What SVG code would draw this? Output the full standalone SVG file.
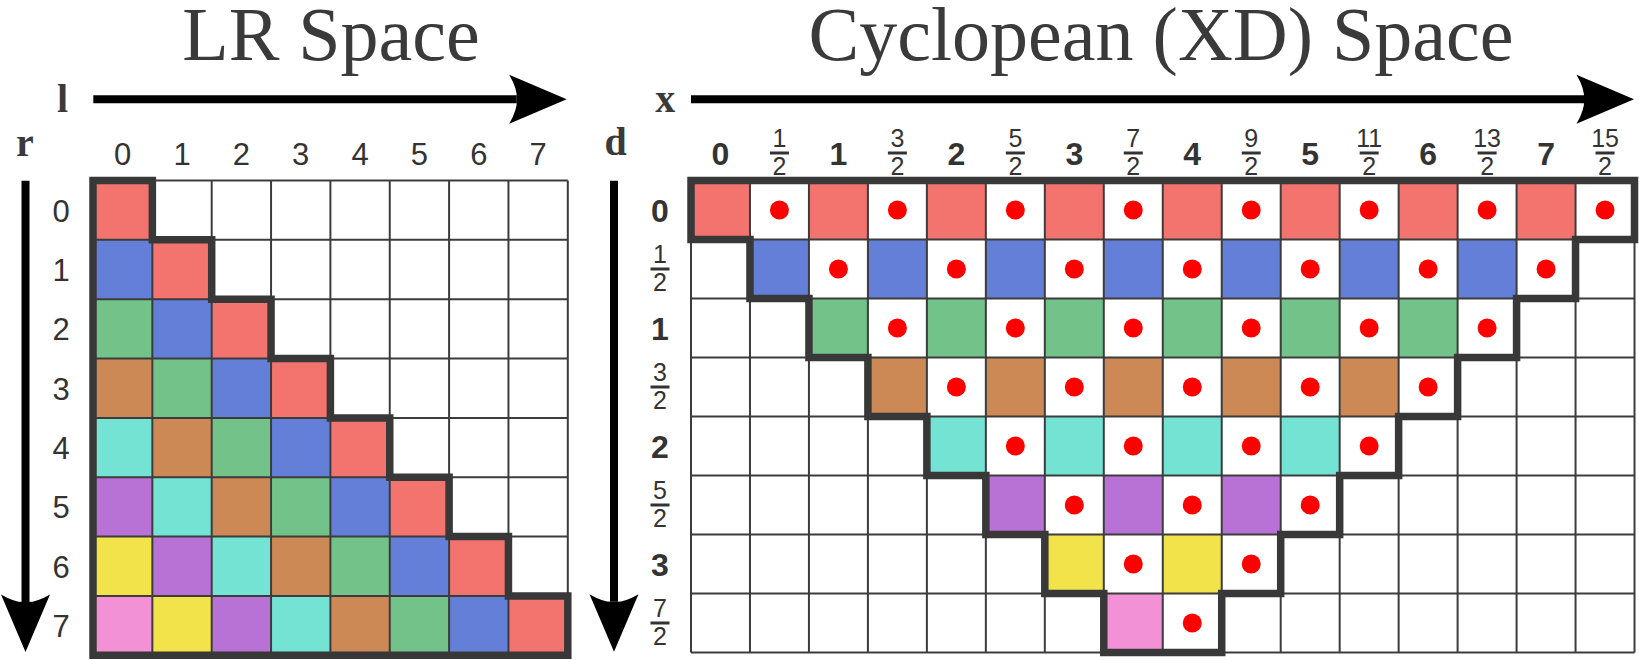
<svg xmlns="http://www.w3.org/2000/svg" xmlns:xlink="http://www.w3.org/1999/xlink" width="1639" height="660" viewBox="0 0 1639 660">
<style>
.title{font-family:"Liberation Serif","Times New Roman",serif;font-size:76px;fill:#3a3a3a;text-anchor:middle}
.axis{font-family:"Liberation Serif","Times New Roman",serif;font-size:40px;font-weight:bold;fill:#3a3a3a;text-anchor:middle}
.lab{font-family:"Liberation Sans",Arial,sans-serif;font-size:31px;fill:#333;text-anchor:middle}
.blab{font-family:"Liberation Sans",Arial,sans-serif;font-size:32px;font-weight:bold;fill:#333;text-anchor:middle}
.frac{font-family:"Liberation Sans",Arial,sans-serif;font-size:25px;fill:#333;text-anchor:middle}
.bar{stroke:#333;stroke-width:3}
.grid{fill:none;stroke:#3c3c3c;stroke-width:2}
.stair{fill:none;stroke:#383838;stroke-width:7.5;stroke-linejoin:miter;stroke-linecap:square}
.arrow{stroke:#000;stroke-width:8;fill:none}
.c0{fill:#f3736f}.c1{fill:#647fd7}.c2{fill:#73c28a}.c3{fill:#cc8955}
.c4{fill:#75e3d4}.c5{fill:#b872d6}.c6{fill:#f2e34b}.c7{fill:#f291d5}
.dot{fill:#ff0000}
</style>
<defs>
<marker id="head" markerUnits="userSpaceOnUse" orient="auto" viewBox="-8 -25 58 50" markerWidth="58" markerHeight="50" refX="0" refY="0">
<path d="M50,0 L-7.5,-24.5 Q1,-10 0,0 Q1,10 -7.5,24.5 Z" fill="#000"/>
</marker>
</defs>
<rect width="1639" height="660" fill="#fff"/>

<g id="titles">
<text class="title" x="331" y="60">LR Space</text>
<text class="title" x="1161" y="60">Cyclopean (XD) Space</text>
</g>

<g id="axis-letters">
<text class="axis" x="62.5" y="111.7">l</text>
<text class="axis" x="24.8" y="155.7">r</text>
<text class="axis" x="665.3" y="111.7">x</text>
<text class="axis" x="615.5" y="155">d</text>
</g>

<g id="connectors">
<line class="arrow" x1="93.3" y1="99.3" x2="516.7" y2="99.3" marker-end="url(#head)"/>
<line class="arrow" x1="25.5" y1="180.7" x2="25.5" y2="602" marker-end="url(#head)"/>
<line class="arrow" x1="691" y1="99.2" x2="1584" y2="99.2" marker-end="url(#head)"/>
<line class="arrow" x1="614" y1="180.7" x2="614" y2="601.7" marker-end="url(#head)"/>
</g>

<g id="lr-grid">
<g id="lr-fills">
<rect class="c0" x="93" y="180.5" width="59.35" height="59.35"/>
<rect class="c1" x="93" y="239.85" width="59.35" height="59.35"/>
<rect class="c0" x="152.35" y="239.85" width="59.35" height="59.35"/>
<rect class="c2" x="93" y="299.2" width="59.35" height="59.35"/>
<rect class="c1" x="152.35" y="299.2" width="59.35" height="59.35"/>
<rect class="c0" x="211.7" y="299.2" width="59.35" height="59.35"/>
<rect class="c3" x="93" y="358.55" width="59.35" height="59.35"/>
<rect class="c2" x="152.35" y="358.55" width="59.35" height="59.35"/>
<rect class="c1" x="211.7" y="358.55" width="59.35" height="59.35"/>
<rect class="c0" x="271.05" y="358.55" width="59.35" height="59.35"/>
<rect class="c4" x="93" y="417.9" width="59.35" height="59.35"/>
<rect class="c3" x="152.35" y="417.9" width="59.35" height="59.35"/>
<rect class="c2" x="211.7" y="417.9" width="59.35" height="59.35"/>
<rect class="c1" x="271.05" y="417.9" width="59.35" height="59.35"/>
<rect class="c0" x="330.4" y="417.9" width="59.35" height="59.35"/>
<rect class="c5" x="93" y="477.25" width="59.35" height="59.35"/>
<rect class="c4" x="152.35" y="477.25" width="59.35" height="59.35"/>
<rect class="c3" x="211.7" y="477.25" width="59.35" height="59.35"/>
<rect class="c2" x="271.05" y="477.25" width="59.35" height="59.35"/>
<rect class="c1" x="330.4" y="477.25" width="59.35" height="59.35"/>
<rect class="c0" x="389.75" y="477.25" width="59.35" height="59.35"/>
<rect class="c6" x="93" y="536.6" width="59.35" height="59.35"/>
<rect class="c5" x="152.35" y="536.6" width="59.35" height="59.35"/>
<rect class="c4" x="211.7" y="536.6" width="59.35" height="59.35"/>
<rect class="c3" x="271.05" y="536.6" width="59.35" height="59.35"/>
<rect class="c2" x="330.4" y="536.6" width="59.35" height="59.35"/>
<rect class="c1" x="389.75" y="536.6" width="59.35" height="59.35"/>
<rect class="c0" x="449.1" y="536.6" width="59.35" height="59.35"/>
<rect class="c7" x="93" y="595.95" width="59.35" height="59.35"/>
<rect class="c6" x="152.35" y="595.95" width="59.35" height="59.35"/>
<rect class="c5" x="211.7" y="595.95" width="59.35" height="59.35"/>
<rect class="c4" x="271.05" y="595.95" width="59.35" height="59.35"/>
<rect class="c3" x="330.4" y="595.95" width="59.35" height="59.35"/>
<rect class="c2" x="389.75" y="595.95" width="59.35" height="59.35"/>
<rect class="c1" x="449.1" y="595.95" width="59.35" height="59.35"/>
<rect class="c0" x="508.45" y="595.95" width="59.35" height="59.35"/>
</g>
<path class="grid" d="M93,180.5H567.8M93,239.85H567.8M93,299.2H567.8M93,358.55H567.8M93,417.9H567.8M93,477.25H567.8M93,536.6H567.8M93,595.95H567.8M93,655.3H567.8M93,180.5V655.3M152.35,180.5V655.3M211.7,180.5V655.3M271.05,180.5V655.3M330.4,180.5V655.3M389.75,180.5V655.3M449.1,180.5V655.3M508.45,180.5V655.3M567.8,180.5V655.3"/>
<path id="lr-stair" class="stair" d="M93,180.5H152.35V239.85H211.7V299.2H271.05V358.55H330.4V417.9H389.75V477.25H449.1V536.6H508.45V595.95H567.8V655.3H93Z"/>
</g>

<g id="lr-labels">
<text class="lab" x="122.68" y="165">0</text>
<text class="lab" x="182.03" y="165">1</text>
<text class="lab" x="241.38" y="165">2</text>
<text class="lab" x="300.73" y="165">3</text>
<text class="lab" x="360.08" y="165">4</text>
<text class="lab" x="419.43" y="165">5</text>
<text class="lab" x="478.78" y="165">6</text>
<text class="lab" x="538.13" y="165">7</text>
<text class="lab" x="61" y="221.7">0</text>
<text class="lab" x="61" y="281">1</text>
<text class="lab" x="61" y="340.4">2</text>
<text class="lab" x="61" y="399.7">3</text>
<text class="lab" x="61" y="459.1">4</text>
<text class="lab" x="61" y="518.4">5</text>
<text class="lab" x="61" y="577.8">6</text>
<text class="lab" x="61" y="637.1">7</text>
</g>

<g id="xd-grid">
<g id="xd-fills">
<rect class="c0" x="691" y="180.5" width="58.97" height="59"/>
<rect class="c0" x="808.94" y="180.5" width="58.97" height="59"/>
<rect class="c0" x="926.88" y="180.5" width="58.97" height="59"/>
<rect class="c0" x="1044.82" y="180.5" width="58.97" height="59"/>
<rect class="c0" x="1162.76" y="180.5" width="58.97" height="59"/>
<rect class="c0" x="1280.7" y="180.5" width="58.97" height="59"/>
<rect class="c0" x="1398.64" y="180.5" width="58.97" height="59"/>
<rect class="c0" x="1516.58" y="180.5" width="58.97" height="59"/>
<rect class="c1" x="749.97" y="239.5" width="58.97" height="59"/>
<rect class="c1" x="867.91" y="239.5" width="58.97" height="59"/>
<rect class="c1" x="985.85" y="239.5" width="58.97" height="59"/>
<rect class="c1" x="1103.79" y="239.5" width="58.97" height="59"/>
<rect class="c1" x="1221.73" y="239.5" width="58.97" height="59"/>
<rect class="c1" x="1339.67" y="239.5" width="58.97" height="59"/>
<rect class="c1" x="1457.61" y="239.5" width="58.97" height="59"/>
<rect class="c2" x="808.94" y="298.5" width="58.97" height="59"/>
<rect class="c2" x="926.88" y="298.5" width="58.97" height="59"/>
<rect class="c2" x="1044.82" y="298.5" width="58.97" height="59"/>
<rect class="c2" x="1162.76" y="298.5" width="58.97" height="59"/>
<rect class="c2" x="1280.7" y="298.5" width="58.97" height="59"/>
<rect class="c2" x="1398.64" y="298.5" width="58.97" height="59"/>
<rect class="c3" x="867.91" y="357.5" width="58.97" height="59"/>
<rect class="c3" x="985.85" y="357.5" width="58.97" height="59"/>
<rect class="c3" x="1103.79" y="357.5" width="58.97" height="59"/>
<rect class="c3" x="1221.73" y="357.5" width="58.97" height="59"/>
<rect class="c3" x="1339.67" y="357.5" width="58.97" height="59"/>
<rect class="c4" x="926.88" y="416.5" width="58.97" height="59"/>
<rect class="c4" x="1044.82" y="416.5" width="58.97" height="59"/>
<rect class="c4" x="1162.76" y="416.5" width="58.97" height="59"/>
<rect class="c4" x="1280.7" y="416.5" width="58.97" height="59"/>
<rect class="c5" x="985.85" y="475.5" width="58.97" height="59"/>
<rect class="c5" x="1103.79" y="475.5" width="58.97" height="59"/>
<rect class="c5" x="1221.73" y="475.5" width="58.97" height="59"/>
<rect class="c6" x="1044.82" y="534.5" width="58.97" height="59"/>
<rect class="c6" x="1162.76" y="534.5" width="58.97" height="59"/>
<rect class="c7" x="1103.79" y="593.5" width="58.97" height="59"/>
</g>
<g id="xd-dots">
<circle class="dot" cx="779.46" cy="210" r="9.5"/>
<circle class="dot" cx="897.4" cy="210" r="9.5"/>
<circle class="dot" cx="1015.34" cy="210" r="9.5"/>
<circle class="dot" cx="1133.28" cy="210" r="9.5"/>
<circle class="dot" cx="1251.22" cy="210" r="9.5"/>
<circle class="dot" cx="1369.16" cy="210" r="9.5"/>
<circle class="dot" cx="1487.1" cy="210" r="9.5"/>
<circle class="dot" cx="1605.04" cy="210" r="9.5"/>
<circle class="dot" cx="838.43" cy="269" r="9.5"/>
<circle class="dot" cx="956.37" cy="269" r="9.5"/>
<circle class="dot" cx="1074.31" cy="269" r="9.5"/>
<circle class="dot" cx="1192.25" cy="269" r="9.5"/>
<circle class="dot" cx="1310.19" cy="269" r="9.5"/>
<circle class="dot" cx="1428.13" cy="269" r="9.5"/>
<circle class="dot" cx="1546.07" cy="269" r="9.5"/>
<circle class="dot" cx="897.4" cy="328" r="9.5"/>
<circle class="dot" cx="1015.34" cy="328" r="9.5"/>
<circle class="dot" cx="1133.28" cy="328" r="9.5"/>
<circle class="dot" cx="1251.22" cy="328" r="9.5"/>
<circle class="dot" cx="1369.16" cy="328" r="9.5"/>
<circle class="dot" cx="1487.1" cy="328" r="9.5"/>
<circle class="dot" cx="956.37" cy="387" r="9.5"/>
<circle class="dot" cx="1074.31" cy="387" r="9.5"/>
<circle class="dot" cx="1192.25" cy="387" r="9.5"/>
<circle class="dot" cx="1310.19" cy="387" r="9.5"/>
<circle class="dot" cx="1428.13" cy="387" r="9.5"/>
<circle class="dot" cx="1015.34" cy="446" r="9.5"/>
<circle class="dot" cx="1133.28" cy="446" r="9.5"/>
<circle class="dot" cx="1251.22" cy="446" r="9.5"/>
<circle class="dot" cx="1369.16" cy="446" r="9.5"/>
<circle class="dot" cx="1074.31" cy="505" r="9.5"/>
<circle class="dot" cx="1192.25" cy="505" r="9.5"/>
<circle class="dot" cx="1310.19" cy="505" r="9.5"/>
<circle class="dot" cx="1133.28" cy="564" r="9.5"/>
<circle class="dot" cx="1251.22" cy="564" r="9.5"/>
<circle class="dot" cx="1192.25" cy="623" r="9.5"/>
</g>
<path class="grid" d="M691,180.5H1634.52M691,239.5H1634.52M691,298.5H1634.52M691,357.5H1634.52M691,416.5H1634.52M691,475.5H1634.52M691,534.5H1634.52M691,593.5H1634.52M691,652.5H1634.52M691,180.5V652.5M749.97,180.5V652.5M808.94,180.5V652.5M867.91,180.5V652.5M926.88,180.5V652.5M985.85,180.5V652.5M1044.82,180.5V652.5M1103.79,180.5V652.5M1162.76,180.5V652.5M1221.73,180.5V652.5M1280.7,180.5V652.5M1339.67,180.5V652.5M1398.64,180.5V652.5M1457.61,180.5V652.5M1516.58,180.5V652.5M1575.55,180.5V652.5M1634.52,180.5V652.5"/>
<path id="xd-stair" class="stair" d="M691,180.5H1634.52V239.5H1575.55V298.5H1516.58V357.5H1457.61V416.5H1398.64V475.5H1339.67V534.5H1280.7V593.5H1221.73V652.5H1103.79V593.5H1044.82V534.5H985.85V475.5H926.88V416.5H867.91V357.5H808.94V298.5H749.97V239.5H691Z"/>
</g>

<g id="xd-col-labels">
<text class="blab" x="720.49" y="164.5">0</text>
<text class="blab" x="838.43" y="164.5">1</text>
<text class="blab" x="956.37" y="164.5">2</text>
<text class="blab" x="1074.31" y="164.5">3</text>
<text class="blab" x="1192.25" y="164.5">4</text>
<text class="blab" x="1310.19" y="164.5">5</text>
<text class="blab" x="1428.13" y="164.5">6</text>
<text class="blab" x="1546.07" y="164.5">7</text>
<text class="frac" x="779.46" y="146.5">1</text><line class="bar" x1="769.96" y1="153" x2="788.96" y2="153"/><text class="frac" x="779.46" y="175">2</text>
<text class="frac" x="897.4" y="146.5">3</text><line class="bar" x1="887.9" y1="153" x2="906.9" y2="153"/><text class="frac" x="897.4" y="175">2</text>
<text class="frac" x="1015.34" y="146.5">5</text><line class="bar" x1="1005.84" y1="153" x2="1024.84" y2="153"/><text class="frac" x="1015.34" y="175">2</text>
<text class="frac" x="1133.28" y="146.5">7</text><line class="bar" x1="1123.78" y1="153" x2="1142.78" y2="153"/><text class="frac" x="1133.28" y="175">2</text>
<text class="frac" x="1251.22" y="146.5">9</text><line class="bar" x1="1241.72" y1="153" x2="1260.72" y2="153"/><text class="frac" x="1251.22" y="175">2</text>
<text class="frac" x="1369.16" y="146.5">11</text><line class="bar" x1="1359.66" y1="153" x2="1378.66" y2="153"/><text class="frac" x="1369.16" y="175">2</text>
<text class="frac" x="1487.1" y="146.5">13</text><line class="bar" x1="1477.6" y1="153" x2="1496.6" y2="153"/><text class="frac" x="1487.1" y="175">2</text>
<text class="frac" x="1605.04" y="146.5">15</text><line class="bar" x1="1595.54" y1="153" x2="1614.54" y2="153"/><text class="frac" x="1605.04" y="175">2</text>
</g>

<g id="xd-row-labels">
<text class="blab" x="660" y="221.5">0</text>
<text class="frac" x="660" y="262.5">1</text><line class="bar" x1="650.5" y1="269" x2="669.5" y2="269"/><text class="frac" x="660" y="291">2</text>
<text class="blab" x="660" y="339.5">1</text>
<text class="frac" x="660" y="380.5">3</text><line class="bar" x1="650.5" y1="387" x2="669.5" y2="387"/><text class="frac" x="660" y="409">2</text>
<text class="blab" x="660" y="457.5">2</text>
<text class="frac" x="660" y="498.5">5</text><line class="bar" x1="650.5" y1="505" x2="669.5" y2="505"/><text class="frac" x="660" y="527">2</text>
<text class="blab" x="660" y="575.5">3</text>
<text class="frac" x="660" y="616.5">7</text><line class="bar" x1="650.5" y1="623" x2="669.5" y2="623"/><text class="frac" x="660" y="645">2</text>
</g>
</svg>
